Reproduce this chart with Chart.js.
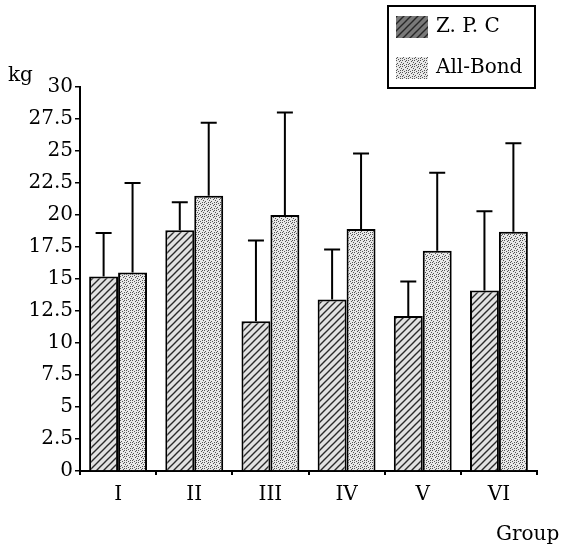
<!DOCTYPE html>
<html>
<head>
<meta charset="utf-8">
<script src="https://cdn.jsdelivr.net/npm/chart.js@4"></script>
<style>
    html, body { margin: 0; padding: 0; background: #fff; }
    #wrap { width: 572px; height: 548px; }
</style>
</head>
<body>
<div id="wrap"><canvas id="bondChart" width="572" height="548"></canvas></div>
<script>
const groups = ['I', 'II', 'III', 'IV', 'V', 'VI'];
const zpcMeans = [15.2, 18.8, 11.7, 13.4, 12.1, 14.1];
const zpcUpper = [18.6, 21.0, 18.0, 17.3, 14.8, 20.3];
const bondMeans = [15.5, 21.5, 20.0, 18.9, 17.2, 18.7];
const bondUpper = [22.5, 27.2, 28.0, 24.8, 23.3, 25.6];
const yTicks = [0, 2.5, 5, 7.5, 10, 12.5, 15, 17.5, 20, 22.5, 25, 27.5, 30];

const serif = '"DejaVu Serif", "Liberation Serif", serif';

function hatchPattern() {
    const c = document.createElement('canvas');
    c.width = 7;
    c.height = 7;
    const g = c.getContext('2d');
    g.fillStyle = '#e2e2e2';
    g.fillRect(0, 0, 7, 7);
    g.strokeStyle = '#2a2a2a';
    g.lineWidth = 1.4;
    g.beginPath();
    g.moveTo(-1, 8); g.lineTo(8, -1);
    g.moveTo(-4, 4); g.lineTo(4, -4);
    g.moveTo(3, 11); g.lineTo(11, 3);
    g.stroke();
    return g.createPattern(c, 'repeat');
}

function stipplePattern() {
    const c = document.createElement('canvas');
    c.width = 6;
    c.height = 6;
    const g = c.getContext('2d');
    g.fillStyle = '#e8e8e8';
    g.fillRect(0, 0, 6, 6);
    g.fillStyle = '#555';
    const dots = [[0, 0], [3, 1], [1, 3], [4, 4], [2, 5], [5, 2], [0, 4], [4, 0]];
    dots.forEach(([x, y]) => g.fillRect(x, y, 1, 1));
    return g.createPattern(c, 'repeat');
}

const upperSets = [zpcUpper, bondUpper];

const errorBars = {
    id: 'errorBars',
    afterDatasetsDraw(chart) {
        const ctx = chart.ctx;
        const y = chart.scales.y;
        ctx.save();
        ctx.strokeStyle = '#000';
        ctx.lineWidth = 2;
        chart.data.datasets.forEach((ds, i) => {
            chart.getDatasetMeta(i).data.forEach((bar, j) => {
                const top = y.getPixelForValue(upperSets[i][j]);
                ctx.beginPath();
                ctx.moveTo(bar.x, bar.y);
                ctx.lineTo(bar.x, top);
                ctx.moveTo(bar.x - 8, top);
                ctx.lineTo(bar.x + 8, top);
                ctx.stroke();
            });
        });
        ctx.restore();
    }
};

const extras = {
    id: 'extras',
    afterDraw(chart) {
        const ctx = chart.ctx;
        ctx.save();
        ctx.fillStyle = '#000';
        ctx.font = '20px ' + serif;
        ctx.textBaseline = 'middle';
        ctx.textAlign = 'left';
        ctx.fillText('kg', 8, 76);
        ctx.fillText('Group', 496, 535);

        // legend box
        ctx.strokeStyle = '#000';
        ctx.lineWidth = 2;
        ctx.strokeRect(388, 6, 147, 82);
        const items = [['Z. P. C', hatchPattern(), 27, '#222'],
                       ['All-Bond', stipplePattern(), 68, null]];
        items.forEach(([label, fill, cy, tint]) => {
            ctx.fillStyle = fill;
            ctx.fillRect(396, cy - 11, 32, 22);
            if (tint) {
                ctx.globalAlpha = 0.55;
                ctx.fillStyle = tint;
                ctx.fillRect(396, cy - 11, 32, 22);
                ctx.globalAlpha = 1;
            }
            ctx.fillStyle = '#000';
            ctx.font = '20px ' + serif;
            ctx.fillText(label, 436, cy);
        });
        ctx.restore();
    }
};

function createBondChart() {
    const canvas = document.getElementById('bondChart');
    if (!canvas || typeof Chart === 'undefined') {
        return;
    }

    new Chart(canvas, {
        type: 'bar',
        data: {
            labels: groups,
            datasets: [
                {
                    label: 'Z. P. C',
                    data: zpcMeans,
                    backgroundColor: hatchPattern(),
                    borderColor: '#000',
                    borderWidth: 2,
                    borderSkipped: 'bottom',
                },
                {
                    label: 'All-Bond',
                    data: bondMeans,
                    backgroundColor: stipplePattern(),
                    borderColor: '#000',
                    borderWidth: 2,
                    borderSkipped: 'bottom',
                },
            ],
        },
        options: {
            responsive: false,
            animation: false,
            datasets: {
                bar: { categoryPercentage: 0.76, barPercentage: 1.0 },
            },
            layout: { padding: { top: 87, right: 35, left: 0, bottom: 0 } },
            scales: {
                x: {
                    grid: { display: true, drawOnChartArea: false, color: '#000', tickLength: 4, lineWidth: 2 },
                    border: { color: '#000', width: 2 },
                    ticks: { color: '#000', font: { family: serif, size: 20 }, padding: 8 },
                    afterFit(scale) { scale.height = 77; },
                },
                y: {
                    min: 0,
                    max: 30,
                    afterBuildTicks(scale) { scale.ticks = yTicks.map(v => ({ value: v })); },
                    grid: { display: true, drawOnChartArea: false, color: '#000', tickLength: 5, lineWidth: 1.5 },
                    border: { color: '#000', width: 2 },
                    ticks: { color: '#000', font: { family: serif, size: 20 }, padding: 2 },
                    afterFit(scale) { scale.width = 80; },
                },
            },
            plugins: {
                legend: { display: false },
                tooltip: { enabled: false },
            },
        },
        plugins: [errorBars, extras],
    });
}

document.addEventListener('DOMContentLoaded', () => {
    createBondChart();
});
</script>
</body>
</html>
